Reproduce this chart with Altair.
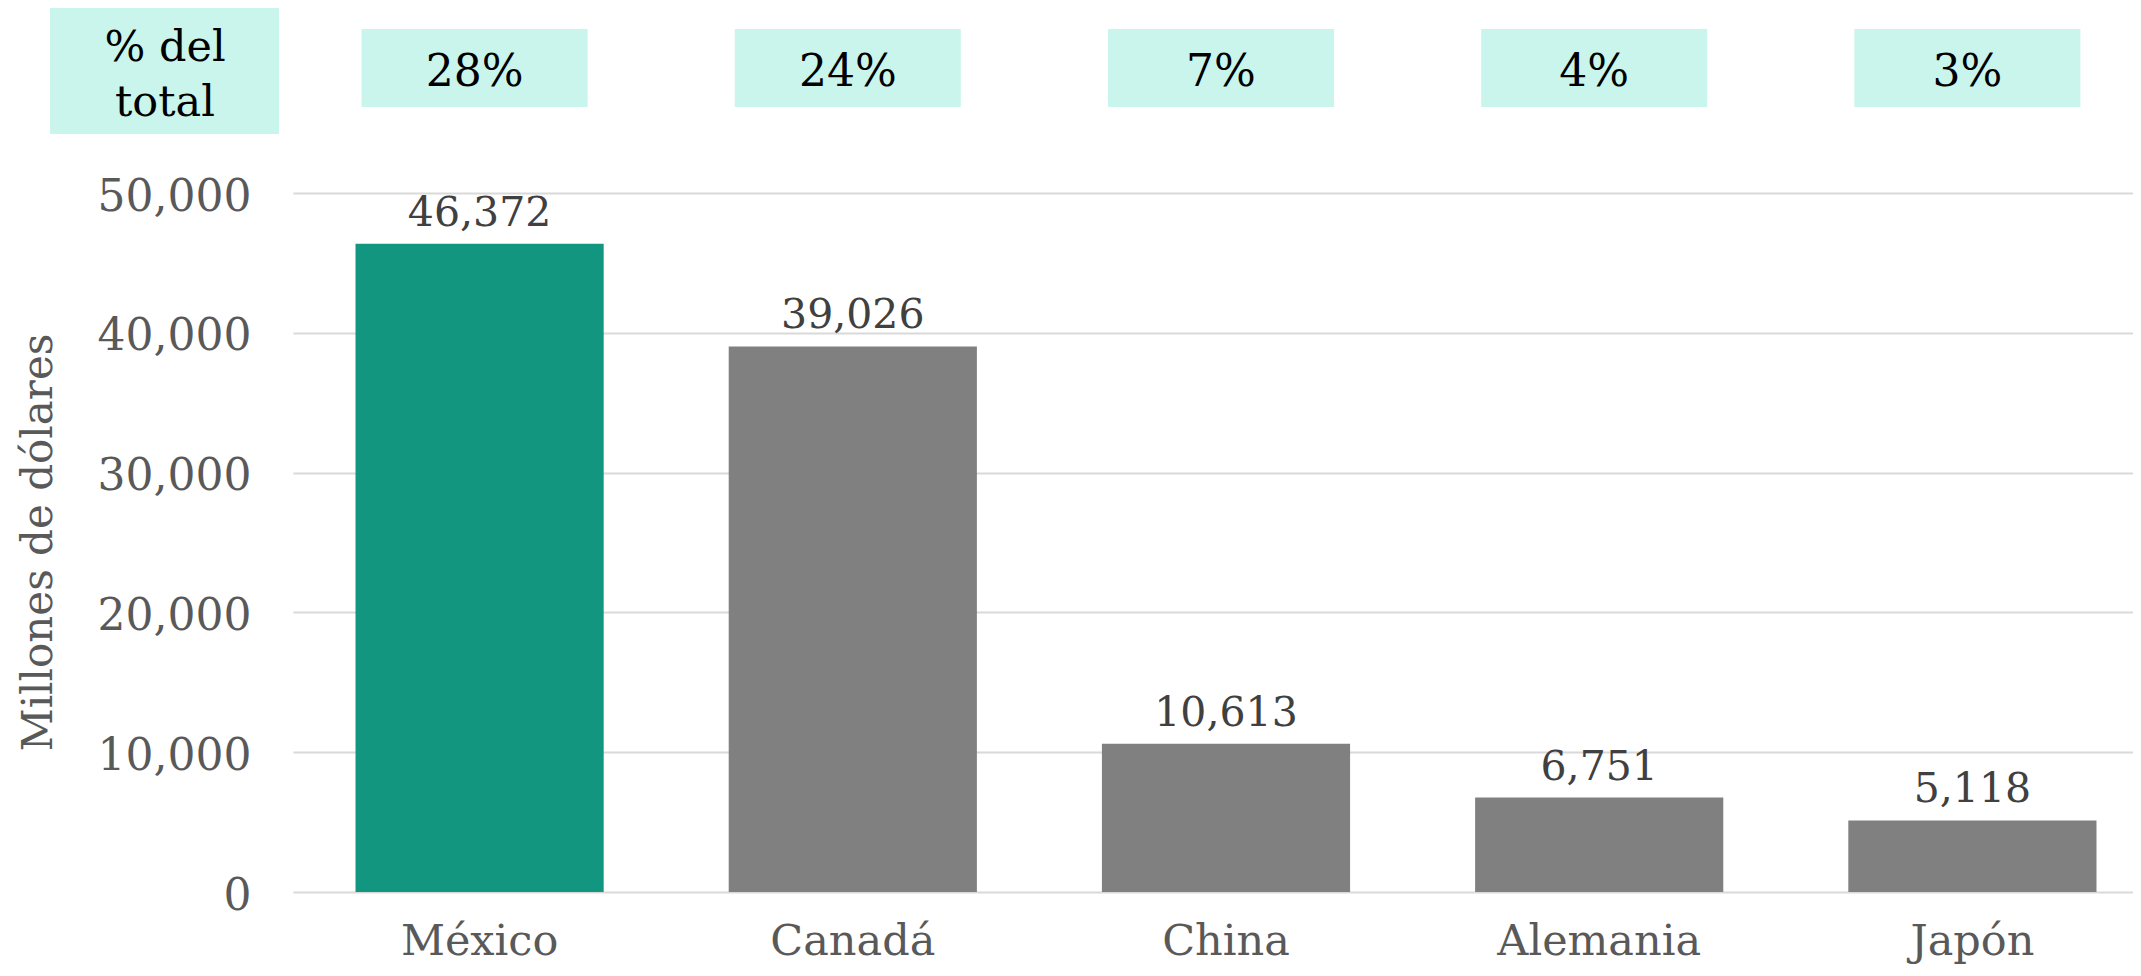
import altair as alt
import pandas as pd

countries = ["México", "Canadá", "China", "Alemania", "Japón"]
values = [46372, 39026, 10613, 6751, 5118]
shares = ["28%", "24%", "7%", "4%", "3%"]
bar_colors = ["#13967F", "#808080", "#808080", "#808080", "#808080"]
y_ticks = [0, 10000, 20000, 30000, 40000, 50000]
header_text = ["% del", "total"]

df = pd.DataFrame({"pais": countries, "valor": values, "pct": shares, "color": bar_colors})
hdr = pd.DataFrame({"k": [0]})

FONT = "DejaVu Serif"
BOX = "#C9F5EC"

x_enc = alt.X(
    "pais:N", sort=countries,
    scale=alt.Scale(paddingInner=0.335, paddingOuter=0.1675, range=[0, 1866]),
    axis=alt.Axis(title=None, labelAngle=0, labelFont=FONT, labelFontSize=43,
                  labelColor="#595959", labelPadding=62, labelBaseline="alphabetic",
                  ticks=False, domain=False, grid=False, labelLimit=0),
)
y_enc = alt.Y(
    "valor:Q",
    scale=alt.Scale(domain=[0, 50000], nice=False),
    axis=alt.Axis(values=y_ticks, format=",.0f", title="Millones de dólares",
                  titleFont=FONT, titleFontSize=42, titleFontWeight="normal",
                  titleColor="#595959", titleX=-255, titleY=349, titleAngle=270,
                  titleAlign="center", titleBaseline="middle",
                  labelFont=FONT, labelFontSize=44, labelColor="#595959",
                  labelPadding=42, ticks=False, domain=False, labelOffset=4,
                  gridColor="#D9D9D9", gridWidth=2, labelLimit=0),
)

bars = alt.Chart(df).mark_bar().encode(
    x=x_enc, y=y_enc, color=alt.Color("color:N", scale=None)
)
labels = alt.Chart(df).mark_text(
    font=FONT, fontSize=41, color="#404040", baseline="alphabetic", dy=-18
).encode(x=x_enc, y=y_enc, text=alt.Text("valor:Q", format=",.0f"))

boxes = alt.Chart(df).mark_bar(size=226, color=BOX, xOffset=-5).encode(
    x=x_enc, y=alt.value(-164), y2=alt.value(-86)
)
box_text = alt.Chart(df).mark_text(
    font=FONT, fontSize=44, color="#000000", baseline="middle", dx=-5
).encode(x=x_enc, y=alt.value(-120), text="pct:N")

hdr_box = alt.Chart(hdr).mark_rect(color=BOX).encode(
    x=alt.value(-243), x2=alt.value(-14), y=alt.value(-185), y2=alt.value(-59)
)
hdr_text = alt.Chart(hdr).mark_text(
    font=FONT, fontSize=43, color="#000000", baseline="middle", lineHeight=55,
    text=header_text
).encode(x=alt.value(-128), y=alt.value(-145))

chart = alt.layer(bars, labels, boxes, box_text, hdr_box, hdr_text).properties(
    width=1840, height=699,
    autosize=alt.AutoSizeParams(type="none"),
    padding={"left": 285, "top": 185, "right": 0, "bottom": 76},
).configure_view(stroke=None)

chart.save("out.html", embed_options={"renderer": "svg", "actions": False})
